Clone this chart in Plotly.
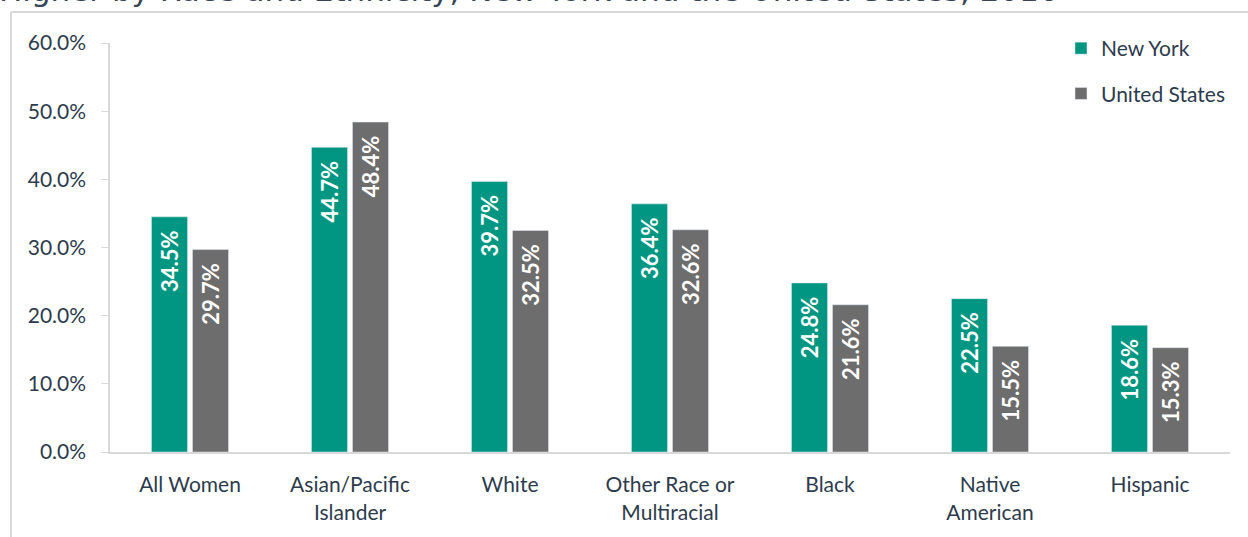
import plotly.graph_objects as go

categories = ["All Women", "Asian/Pacific<br>Islander", "White", "Other Race or<br>Multiracial",
              "Black", "Native<br>American", "Hispanic"]
new_york = [34.5, 44.7, 39.7, 36.4, 24.8, 22.5, 18.6]
united_states = [29.7, 48.4, 32.5, 32.6, 21.6, 15.5, 15.3]
y_ticks = [0, 10, 20, 30, 40, 50, 60]
y_tick_text = [f"{v:.1f}%" for v in y_ticks]

W, H = 1248, 537
L, R, T, B = 110, 18, 43, 85
pw, ph = W - L - R, H - T - B

def px(x):
    return (x - L) / pw

def py(y):
    return (H - B - y) / ph

label_font = dict(family="Lato, Open Sans, sans-serif", size=21, color="#2d3b4d")

fig = go.Figure()
for name, vals, color, grp in [("New York", new_york, "#009681", "a"),
                               ("United States", united_states, "#6d6d6d", "b")]:
    fig.add_trace(go.Bar(
        x=categories, y=vals, name=name, marker_color=color, legendgroup=grp,
        texttemplate="%{y:.1f}%\u00a0\u00a0", textposition="inside", insidetextanchor="end",
        textangle=-90, textfont=dict(family="Lato, Open Sans, sans-serif", size=22, color="white", weight="bold"),
        cliponaxis=False,
    ))

fig.update_layout(
    width=W, height=H,
    margin=dict(l=L, r=R, t=T, b=B),
    paper_bgcolor="white", plot_bgcolor="white",
    barmode="group", bargap=0.4875, bargroupgap=0.12,
    legend=dict(x=px(1061), xanchor="left", y=py(28), yanchor="top",
                font=label_font, tracegroupgap=15, traceorder="grouped",
                bgcolor="rgba(0,0,0,0)"),
    xaxis=dict(showline=True, linecolor="#d9d9d9", linewidth=2, ticks="",
               tickfont=label_font, ticklabelstandoff=13, showgrid=False),
    yaxis=dict(range=[0, 60], tickvals=y_ticks, ticktext=y_tick_text,
               showline=True, linecolor="#d9d9d9", linewidth=1.5, ticks="outside",
               ticklen=7, tickcolor="#d9d9d9", tickfont=label_font, showgrid=False,
               ticklabelstandoff=11, zeroline=False),
    shapes=[
        dict(type="line", xref="paper", yref="paper", x0=px(11), x1=px(1300), y0=py(12), y1=py(12),
             line=dict(color="#d9d9d9", width=2), layer="below"),
        dict(type="line", xref="paper", yref="paper", x0=px(11), x1=px(11), y0=py(12), y1=py(560),
             line=dict(color="#d9d9d9", width=2), layer="below"),
    ],
    annotations=[dict(
        text="Higher by Race and Ethnicity, New York and the United States, 2016",
        xref="paper", yref="paper", x=px(-3), y=py(10), xanchor="left", yanchor="bottom",
        showarrow=False, font=dict(family="DejaVu Sans, sans-serif", size=31, color="#3a4656"),
    )],
)

fig.write_html("out.html", config={"displayModeBar": False},
               post_script="document.body.style.margin='0';document.body.style.padding='0';")
